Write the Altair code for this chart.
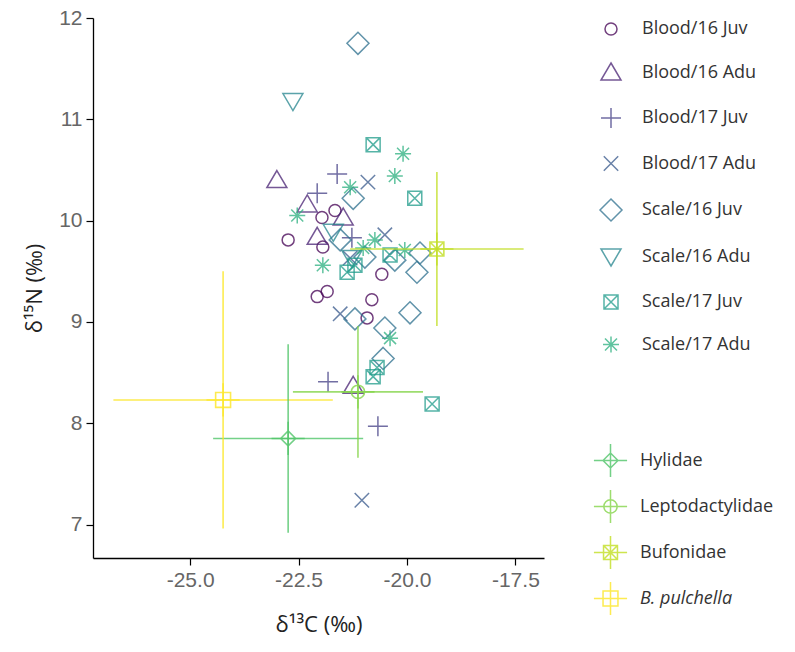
import altair as alt
import pandas as pd

# ---------------- data ----------------
series_names = ["Blood/16 Juv", "Blood/16 Adu", "Blood/17 Juv", "Blood/17 Adu",
                "Scale/16 Juv", "Scale/16 Adu", "Scale/17 Juv", "Scale/17 Adu"]
series_colors = ["#440154", "#482173", "#433E85", "#38598C",
                 "#2D708E", "#25858E", "#1E9B8A", "#2BB07F"]

b16j_x = [-22.74, -21.96, -21.66, -21.94, -22.07, -21.84, -20.58, -20.81, -20.92]
b16j_y = [9.81, 10.03, 10.10, 9.74, 9.25, 9.30, 9.47, 9.22, 9.04]
b16a_x = [-23.00, -22.30, -22.07, -21.47, -21.24]
b16a_y = [10.40, 10.16, 9.84, 10.03, 8.37]
b17j_x = [-21.61, -22.07, -21.27, -21.82, -20.67]
b17j_y = [10.46, 10.27, 9.83, 8.41, 7.97]
b17a_x = [-20.90, -20.51, -21.31, -21.54, -21.04]
b17a_y = [10.38, 9.86, 9.63, 9.08, 7.24]
s16j_x = [-21.13, -21.24, -21.54, -20.97, -20.28, -19.70, -19.77, -19.93, -21.20, -20.51, -20.55]
s16j_y = [11.75, 10.22, 9.81, 9.64, 9.61, 9.68, 9.49, 9.09, 9.03, 8.94, 8.64]
s16a_x = [-22.63, -21.70, -21.27]
s16a_y = [11.18, 9.89, 9.63]
s17j_x = [-20.78, -19.82, -20.39, -21.20, -21.38, -20.69, -20.78, -19.42]
s17j_y = [10.75, 10.22, 9.66, 9.56, 9.49, 8.55, 8.46, 8.19]
s17a_x = [-20.09, -20.28, -21.31, -22.53, -20.74, -21.01, -20.05, -21.94, -20.39]
s17a_y = [10.66, 10.44, 10.33, 10.05, 9.81, 9.73, 9.71, 9.56, 8.84]

series_x = [b16j_x, b16a_x, b17j_x, b17a_x, s16j_x, s16a_x, s17j_x, s17a_x]
series_y = [b16j_y, b16a_y, b17j_y, b17a_y, s16j_y, s16a_y, s17j_y, s17a_y]

group_names = ["Hylidae", "Leptodactylidae", "Bufonidae", "B. pulchella"]
group_colors = ["#51C56A", "#85D54A", "#C2DF23", "#FDE725"]
group_x = [-22.74, -21.13, -19.31, -24.24]
group_xsd = [1.73, 1.50, 2.00, 2.53]
group_y = [7.85, 8.31, 9.72, 8.23]
group_ysd = [0.93, 0.65, 0.76, 1.27]

x_ticks = [-25.0, -22.5, -20.0, -17.5]
y_ticks = [7, 8, 9, 10, 11, 12]

# ---------------- symbols ----------------
series_shapes = [
    "M0.6,0A0.6,0.6,0,1,1,-0.6,0A0.6,0.6,0,1,1,0.6,0Z",
    "M0,-0.95L1,0.75L-1,0.75Z",
    "M-1,0H1M0,-1V1",
    "M-0.72,-0.72L0.72,0.72M-0.72,0.72L0.72,-0.72",
    "M0,-1.1L1.1,0L0,1.1L-1.1,0Z",
    "M0,0.95L1,-0.75L-1,-0.75Z",
    "M-0.7,-0.7H0.7V0.7H-0.7ZM-0.7,-0.7L0.7,0.7M-0.7,0.7L0.7,-0.7",
    "M-0.8,0H0.8M0,-0.8V0.8M-0.6,-0.6L0.6,0.6M-0.6,0.6L0.6,-0.6",
]
group_shapes = [
    "M-1,0H1M0,-1V1M-0.45,0L0,-0.45L0.45,0L0,0.45Z",
    "M-1,0H1M0,-1V1M0.4,0A0.4,0.4,0,1,1,-0.4,0A0.4,0.4,0,1,1,0.4,0Z",
    "M-1,0H1M0,-1V1M-0.42,-0.42H0.42V0.42H-0.42ZM-0.42,-0.42L0.42,0.42M-0.42,0.42L0.42,-0.42",
    "M-1,0H1M0,-1V1M-0.45,-0.45H0.45V0.45H-0.45Z",
]

rows = []
for name, xs, ys in zip(series_names, series_x, series_y):
    for a, b in zip(xs, ys):
        rows.append({"series": name, "d13C": a, "d15N": b})
pts = pd.DataFrame(rows)

grp = pd.DataFrame({"group": group_names, "x": group_x, "xsd": group_xsd,
                    "y": group_y, "ysd": group_ysd})
grp["xmin"] = grp["x"] - grp["xsd"]
grp["xmax"] = grp["x"] + grp["xsd"]
grp["ymin"] = grp["y"] - grp["ysd"]
grp["ymax"] = grp["y"] + grp["ysd"]

# ---------------- scales / axes ----------------
xscale = alt.Scale(domain=[-27.24, -16.84], nice=False, zero=False)
yscale = alt.Scale(domain=[6.67, 12.0], nice=False, zero=False)
axis_common = dict(grid=False, domainColor="black", domainWidth=1.3, tickColor="black",
                   tickWidth=1.2, tickSize=7, labelFont="Liberation Sans", labelFontSize=21,
                   labelColor="#666666", labelPadding=4, titleFont="Open Sans",
                   titleFontSize=22, titleFontWeight="normal", titleColor="#222222")
xaxis = alt.Axis(values=x_ticks, titlePadding=24,
                 labelExpr="(datum.value < 0 ? '-' : '') + format(abs(datum.value), '.1f')",
                 **axis_common)
yaxis = alt.Axis(values=y_ticks, format="d", titlePadding=12, **axis_common)
xtitle = "δ¹³C (‰)"
ytitle = "δ¹⁵N (‰)"

legend_top = alt.Legend(title=None, orient="none", legendX=507, legendY=0, padding=0,
                        symbolSize=400, symbolStrokeWidth=1.5, labelFont="Open Sans",
                        labelFontSize=18, labelColor="#333333", rowPadding=21.5, labelOffset=20)
legend_bot = alt.Legend(title=None, orient="none", legendX=500, legendY=425, padding=0,
                        symbolSize=1100, symbolStrokeWidth=1.5, labelFont="Open Sans",
                        labelFontSize=18, labelColor="#333333", rowPadding=5, labelOffset=12,
                        labelFontStyle={"expr": "datum.label == 'B. pulchella' ? 'italic' : 'normal'"})

scol = alt.Color("series:N", scale=alt.Scale(domain=series_names, range=series_colors), legend=legend_top)
sshp = alt.Shape("series:N", scale=alt.Scale(domain=series_names, range=series_shapes), legend=legend_top)
gcol = alt.Color("group:N", scale=alt.Scale(domain=group_names, range=group_colors), legend=legend_bot)
gshp = alt.Shape("group:N", scale=alt.Scale(domain=group_names, range=group_shapes), legend=legend_bot)

points = alt.Chart(pts).mark_point(filled=False, size=400, strokeWidth=1.5, opacity=0.75).encode(
    x=alt.X("d13C:Q", scale=xscale, axis=xaxis, title=xtitle),
    y=alt.Y("d15N:Q", scale=yscale, axis=yaxis, title=ytitle),
    color=scol, shape=sshp,
)

g = alt.Chart(grp)
hbar = g.mark_rule(strokeWidth=1.6, opacity=0.8).encode(
    x=alt.X("xmin:Q", scale=xscale, axis=xaxis, title=xtitle), x2="xmax:Q",
    y=alt.Y("y:Q", scale=yscale, axis=yaxis, title=ytitle), color=gcol)
vbar = g.mark_rule(strokeWidth=1.6, opacity=0.8).encode(
    x=alt.X("x:Q", scale=xscale, axis=xaxis, title=xtitle),
    y=alt.Y("ymin:Q", scale=yscale, axis=yaxis, title=ytitle), y2="ymax:Q", color=gcol)
cent = g.mark_point(filled=False, size=1100, strokeWidth=1.6, opacity=0.8).encode(
    x=alt.X("x:Q", scale=xscale, axis=xaxis, title=xtitle),
    y=alt.Y("y:Q", scale=yscale, axis=yaxis, title=ytitle), color=gcol, shape=gshp)

groups_layer = alt.layer(hbar, vbar, cent)

chart = alt.layer(points, groups_layer).resolve_scale(
    color="independent", shape="independent"
).properties(
    width=451, height=540,
    autosize=alt.AutoSizeParams(type="none"),
    padding={"left": 93, "top": 18, "right": 251, "bottom": 94},
    background="white",
).configure_view(stroke=None)

chart.save("out.html", embed_options={"renderer": "svg", "actions": False})
